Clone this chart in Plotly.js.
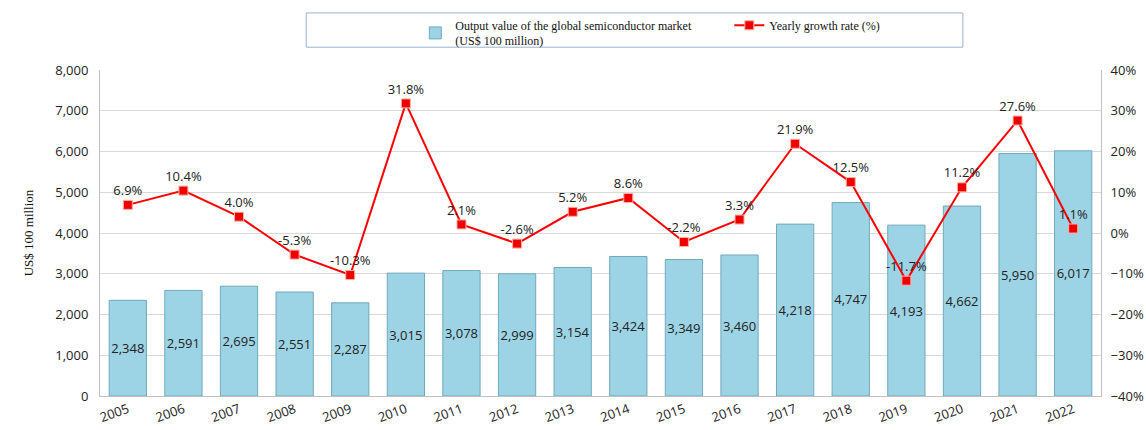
<!DOCTYPE html>
<html>
<head>
<meta charset="utf-8">
<script src="https://cdn.plot.ly/plotly-3.0.1.min.js"></script>
<style>body{margin:0;background:#fff}</style>
</head>
<body>
<div id="myDiv" style="width:1146px;height:430px"></div>
<script>
var years = ['2005', '2006', '2007', '2008', '2009', '2010', '2011', '2012', '2013',
    '2014', '2015', '2016', '2017', '2018', '2019', '2020', '2021', '2022'];
var outputValue = [2348, 2591, 2695, 2551, 2287, 3015, 3078, 2999, 3154,
    3424, 3349, 3460, 4218, 4747, 4193, 4662, 5950, 6017];
var growthRate = [6.9, 10.4, 4.0, -5.3, -10.3, 31.8, 2.1, -2.6, 5.2,
    8.6, -2.2, 3.3, 21.9, 12.5, -11.7, 11.2, 27.6, 1.1];

var tickFont = {family: 'Open Sans, DejaVu Sans, sans-serif', size: 13, color: '#222'};

var trace1 = {
    x: years,
    y: outputValue,
    type: 'bar',
    name: 'Output value of the global semiconductor market<br>(US$ 100 million)',
    marker: {color: '#9dd4e5', line: {color: '#6fa9ba', width: 1}},
    text: outputValue.map(function (v) { return v.toLocaleString('en-US'); }),
    textposition: 'inside',
    insidetextanchor: 'middle',
    constraintext: 'none',
    textangle: 0,
    textfont: tickFont,
    hoverinfo: 'x+y'
};

var trace2 = {
    x: years,
    y: growthRate,
    type: 'scatter',
    mode: 'lines+markers+text',
    yaxis: 'y2',
    name: 'Yearly growth rate (%)',
    line: {color: '#ff0000', width: 2},
    marker: {symbol: 'square', size: 9, color: '#ee0000', line: {color: '#ffb0a0', width: 1}},
    text: growthRate.map(function (v) { return v.toFixed(1) + '%'; }),
    textposition: 'top center',
    textfont: tickFont,
    cliponaxis: false
};

var data = [trace1, trace2];
var div = document.getElementById('myDiv');

var layout = {
    width: 1146,
    height: 430,
    margin: {l: 100, r: 45, t: 69, b: 34},
    paper_bgcolor: '#fff',
    plot_bgcolor: '#fff',
    bargap: 0.33,
    showlegend: true,
    legend: {
        orientation: 'h',
        x: 0.315,
        y: 1.178,
        xanchor: 'left',
        yanchor: 'top',
        bgcolor: 'rgba(0,0,0,0)',
        font: {family: 'Liberation Serif, serif', size: 12, color: '#111'},
        entrywidth: 269,
        itemwidth: 30,
        tracegroupgap: 0
    },
    shapes: [{
        type: 'rect', xref: 'paper', yref: 'paper',
        x0: 0.206, x1: 0.862, y0: 1.07, y1: 1.175,
        line: {color: '#9ab3d0', width: 1}
    }],
    xaxis: {
        type: 'category',
        range: [-0.5, 17.5],
        tickangle: -20,
        tickfont: tickFont,
        showline: true,
        linecolor: '#c0c0c0',
        ticks: '',
        showgrid: false
    },
    yaxis: {
        range: [0, 8000],
        dtick: 1000,
        tickformat: ',d',
        tickfont: tickFont,
        showline: true,
        linecolor: '#c0c0c0',
        gridcolor: '#d9d9d9',
        zeroline: false,
        ticklabelstandoff: 8,
        title: {text: 'US$ 100 million', font: {family: 'Liberation Serif, serif', size: 13, color: '#111'}, standoff: 18}
    },
    yaxis2: {
        overlaying: 'y',
        side: 'right',
        range: [-40, 40],
        dtick: 10,
        ticksuffix: '%',
        tickfont: tickFont,
        showline: true,
        linecolor: '#c0c0c0',
        showgrid: false,
        zeroline: false,
        ticklabelstandoff: 6
    }
};

var config = {
    responsive: false,
    displayModeBar: false
}
Plotly.newPlot(div, data, layout, config);
</script>
</body>
</html>
